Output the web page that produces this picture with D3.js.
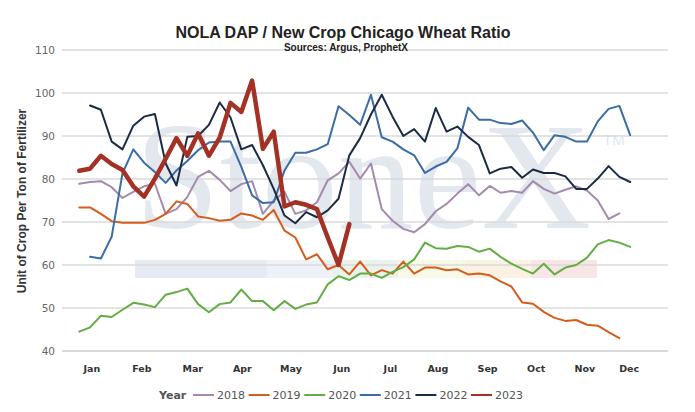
<!DOCTYPE html>
<html>
<head>
<meta charset="utf-8">
<script src="https://cdn.jsdelivr.net/npm/d3@7"></script>
<style>
  body { margin: 0; background: #fff; }
  svg { display: block; }
</style>
</head>
<body>
<script>
const outerWidth = 695;
const outerHeight = 412;

// week numbers for each year (2021/2022 start on week 2, 2023 stops at week 26)
const years = ["2018", "2019", "2020", "2021", "2022", "2023"];
const startWeek = { "2018": 1, "2019": 1, "2020": 1, "2021": 2, "2022": 2, "2023": 1 };

const v2018 = [78.9, 79.3, 79.5, 78.1, 75.6, 77, 78.3, 78.9, 71.9, 73, 75.8, 80.5, 81.9, 79.8, 77.2, 78.8,
  79.5, 71.9, 75, 77, 71.9, 72.7, 74.6, 79.7, 81.3, 84, 80.1, 83.6, 73, 70.3, 68.4, 67.6, 69.5, 72.5, 74.2,
  76.6, 78.8, 76.2, 78.4, 76.8, 77.2, 76.8, 79.5, 77.7, 76.6, 77.5, 78.3, 77.3, 75, 70.7, 72];
const v2019 = [73.4, 73.4, 71.9, 70.2, 69.8, 69.8, 69.8, 70.5, 71.9, 74.8, 74.2, 71.3, 70.9, 70.3, 70.5, 72,
  71.5, 70.5, 72.8, 68, 66.4, 61.3, 62.5, 59, 60, 57.8, 60.8, 57.6, 58.8, 58, 60.8, 58, 59.4, 59.4, 58.8,
  59, 57.8, 58, 57.6, 56.2, 55, 51.3, 51, 49.1, 47.7, 47, 47.2, 46.1, 45.9, 44.4, 43];
const v2020 = [44.5, 45.5, 48.2, 47.9, 49.6, 51.2, 50.8, 50.2, 53.1, 53.7, 54.5, 50.9, 49, 50.9, 51.3, 54.3,
  51.6, 51.6, 49.5, 51.6, 49.8, 50.8, 51.3, 55.5, 57.4, 56.5, 58, 58, 57, 58.4, 59.5, 61.3, 65.2, 63.9, 63.8,
  64.4, 64.2, 63.1, 63.8, 61.9, 60.3, 59.1, 58, 60.3, 57.8, 59.4, 60, 61.7, 64.8, 65.8, 65.2, 64.2];
const v2021 = [61.9, 61.5, 66.6, 81.3, 86.9, 83.8, 81.6, 79.1, 82, 84.2, 86.7, 88.5, 88.7, 88.7, 82.8,
  76.2, 74.4, 74.6, 82, 86.1, 86.1, 86.9, 88.1, 96.9, 94.9, 92.6, 99.6, 89.7, 88.7, 86.9, 85.5, 81.4, 82.9,
  84, 87.1, 96.6, 93.8, 93.8, 93, 92.8, 93.6, 90.8, 86.7, 90.2, 89.8, 88.7, 88.7, 93.4, 96.3, 97, 90.2];
const v2022 = [97.1, 96.1, 88.7, 86.9, 92.4, 94.5, 95.1, 83.6, 78.5, 89.8, 90, 92.6, 97.8, 94.3, 86.9,
  87.9, 83.2, 77.7, 71.5, 69.7, 72.3, 71.1, 72.7, 75.4, 85.5, 89.5, 95, 99.6, 94.5, 90, 91.6, 88.7, 96.5,
  91, 92.2, 89.8, 87.9, 81.3, 82.4, 82.8, 80.3, 82.2, 81.4, 81.4, 80.6, 77.7, 77.7, 80.1, 83, 80.5, 79.3];
const v2023 = [81.9, 82.4, 85.4, 83.5, 82.1, 78.3, 75.9, 80.1, 84.7, 89.5, 85.4, 90.6, 85.4, 89.6, 97.7,
  95.6, 102.9, 87, 91, 73.6, 74.6, 74, 73, 66.4, 60, 69.5];

const values = { "2018": v2018, "2019": v2019, "2020": v2020, "2021": v2021, "2022": v2022, "2023": v2023 };

const monthNames = ["Jan", "Feb", "Mar", "Apr", "May", "Jun", "Jul", "Aug", "Sep", "Oct", "Nov", "Dec"];
const monthWeeks = [2.16, 6.79, 11.5, 16.1, 20.6, 25.3, 29.8, 34.2, 38.8, 43.3, 47.8, 51.9];
const yTicks = [40, 50, 60, 70, 80, 90, 100, 110];

const colors = {
  "2018": "#a48aae", "2019": "#d45d1e", "2020": "#64ad45",
  "2021": "#3a6ca5", "2022": "#1c2b45", "2023": "#a33224"
};

const titleText = "NOLA DAP / New Crop Chicago Wheat Ratio";
const subtitleText = "Sources: Argus, ProphetX";
const yAxisLabelText = "Unit of Crop Per Ton of Fertilizer";

const svg = d3.select("body").append("svg")
  .attr("width", outerWidth)
  .attr("height", outerHeight);

const xScale = d3.scaleLinear().domain([-0.6, 55.5]).range([62, 668]);
const yScale = d3.scaleLinear().domain([40, 110]).range([351, 50]);

// watermark
const wm = svg.append("g").attr("class", "watermark");
const bands = [
  [135, 267, "#e6eaf2"], [267, 333, "#eef2f8"], [333, 398, "#e9f2eb"],
  [398, 465, "#f9f9e8"], [465, 531, "#fcf2e4"], [531, 597, "#f8e5e5"]
];
wm.selectAll("rect").data(bands).enter().append("rect")
  .attr("x", d => d[0])
  .attr("width", d => d[1] - d[0])
  .attr("y", 260)
  .attr("height", 18)
  .attr("fill", d => d[2]);
wm.append("text")
  .attr("x", 135)
  .attr("y", 228)
  .style("font-family", "'Liberation Serif', 'DejaVu Serif', serif")
  .style("font-size", "152px")
  .attr("fill", "#e3e7ee")
  .text("StoneX");
wm.append("text")
  .attr("x", 603)
  .attr("y", 145)
  .style("font-family", "'Liberation Sans', sans-serif")
  .style("font-size", "15px")
  .attr("fill", "#e3e7ee")
  .text("TM");

// gridlines
const yAxisG = svg.append("g").attr("class", "y axis");
yAxisG.selectAll("line").data(yTicks).enter().append("line")
  .attr("x1", 62)
  .attr("x2", 668)
  .attr("y1", d => yScale(d))
  .attr("y2", d => yScale(d))
  .attr("stroke", "#dadada")
  .attr("stroke-width", d => d === 40 ? 2 : 1.5);

yAxisG.selectAll("text").data(yTicks).enter().append("text")
  .attr("x", 55)
  .attr("y", d => yScale(d))
  .attr("dy", "0.35em")
  .style("text-anchor", "end")
  .style("font-family", "'DejaVu Sans', sans-serif")
  .style("font-size", "10.5px")
  .attr("fill", "#666")
  .text(d => d);

svg.append("text")
  .style("text-anchor", "middle")
  .attr("transform", `translate(26, 201) rotate(-90)`)
  .style("font-family", "'Liberation Sans', Arial, sans-serif")
  .style("font-size", "12px")
  .style("font-weight", "bold")
  .attr("fill", "#333")
  .text(yAxisLabelText);

// month labels
svg.append("g").attr("class", "x axis")
  .selectAll("text").data(monthNames).enter().append("text")
  .attr("x", (d, i) => xScale(monthWeeks[i]))
  .attr("y", 372)
  .style("text-anchor", "middle")
  .style("font-family", "'DejaVu Sans', sans-serif")
  .style("font-size", "9.5px")
  .style("font-weight", "bold")
  .attr("fill", "#333")
  .text(d => d);

// title
svg.append("text")
  .attr("x", 343)
  .attr("y", 38)
  .style("text-anchor", "middle")
  .style("font-family", "'Liberation Sans', Arial, sans-serif")
  .style("font-size", "16px")
  .style("font-weight", "bold")
  .attr("fill", "#222")
  .text(titleText);

svg.append("text")
  .attr("x", 346)
  .attr("y", 51)
  .style("text-anchor", "middle")
  .style("font-family", "'Liberation Sans', Arial, sans-serif")
  .style("font-size", "10px")
  .style("font-weight", "bold")
  .attr("fill", "#222")
  .text(subtitleText);

// lines
const line = d3.line()
  .x(d => xScale(d.week))
  .y(d => yScale(d.value));

const series = years.map(y => ({
  year: y,
  points: values[y].map((v, i) => ({ week: startWeek[y] + i, value: v }))
}));

svg.append("g").attr("class", "lines")
  .selectAll("path").data(series).enter().append("path")
  .attr("d", d => line(d.points))
  .attr("fill", "none")
  .attr("stroke", d => colors[d.year])
  .attr("stroke-width", d => d.year === "2023" ? 4.5 : 2)
  .attr("stroke-linejoin", "round")
  .attr("stroke-linecap", "round");

// legend
const legend = svg.append("g").attr("class", "legend");
legend.append("text")
  .attr("x", 159)
  .attr("y", 399)
  .style("font-family", "'DejaVu Sans', sans-serif")
  .style("font-size", "11px")
  .style("font-weight", "bold")
  .attr("fill", "#555")
  .text("Year");

const items = legend.selectAll("g.item").data(years).enter().append("g")
  .attr("class", "item")
  .attr("transform", (d, i) => `translate(${193 + i * 55.6}, 395)`);
items.append("line")
  .attr("x1", 0)
  .attr("x2", 21)
  .attr("stroke", d => colors[d])
  .attr("stroke-width", 2);
items.append("text")
  .attr("x", 24)
  .attr("y", 4)
  .style("font-family", "'DejaVu Sans', sans-serif")
  .style("font-size", "11px")
  .attr("fill", "#555")
  .text(d => d);
</script>
</body>
</html>
